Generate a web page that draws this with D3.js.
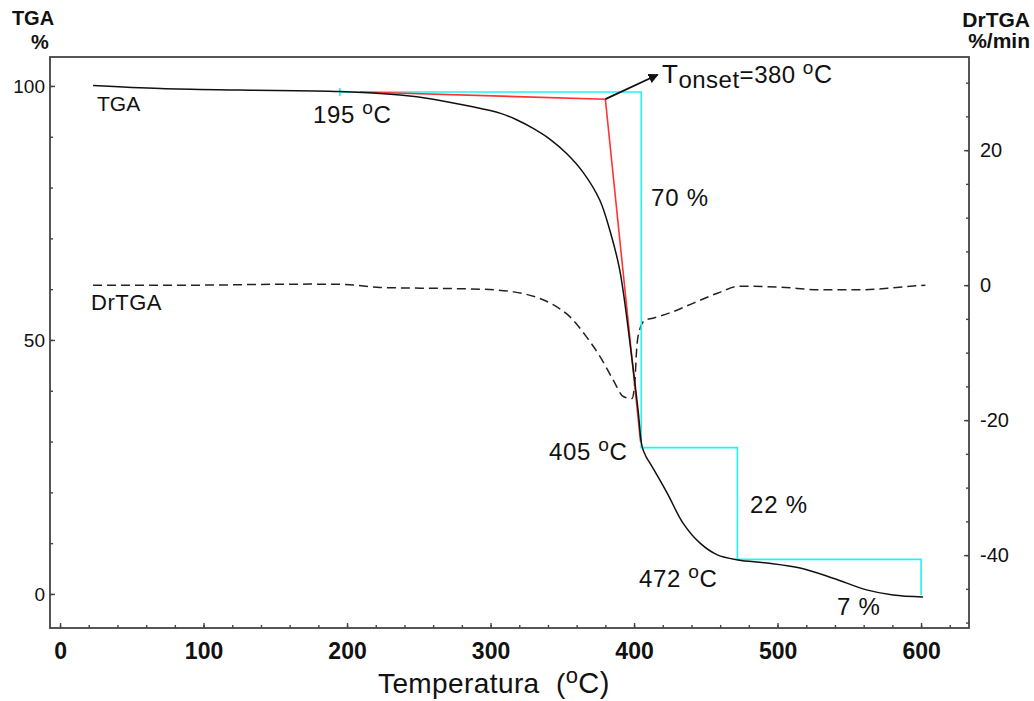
<!DOCTYPE html>
<html>
<head>
<meta charset="utf-8">
<script src="https://cdn.jsdelivr.net/npm/d3@7/dist/d3.min.js"></script>
<style>
  html, body { margin: 0; padding: 0; background: #fff; }
  svg { display: block; }
  text { font-family: "Liberation Sans", Arial, sans-serif; fill: #111; white-space: pre; }
</style>
</head>
<body>
<svg id="chart" width="1034" height="701"></svg>
<script>
// Thermogravimetric curve (mass %, left axis) versus temperature (°C)
const tgaTemp = [23, 70, 125, 195, 237, 260, 284, 307, 318.5, 330, 341.5, 353, 364.5, 376, 383, 390,
                 398.6, 402.8, 405.6, 408.4, 411, 423, 434, 446, 458, 472.5, 492.5, 515.7, 538.7, 562, 580.5, 601.4];
const tgaMass = [100.1, 99.5, 99.2, 98.9, 98.2, 97.4, 96.1, 94.6, 93.3, 91.6, 89.5, 86.7, 83.0, 77.6, 71.7, 63.8,
                 46.1, 36.2, 29.0, 27.0, 25.8, 19.9, 14.0, 10.0, 7.7, 6.7, 6.1, 5.1, 3.1, 0.8, -0.2, -0.6];

// Derivative curve (%/min, right axis)
const dtgTemp = [23, 98, 140, 174, 199, 223, 270, 293, 316, 332, 343.6, 355.4, 367, 376.3, 385.6, 392.5,
                 398.6, 400.7, 402, 404.2, 407.7, 413, 425, 441, 458, 474, 502, 530, 557.5, 585, 603];
const dtgRate = [0, 0, 0.1, 0.15, 0.1, -0.35, -0.5, -0.6, -1.0, -1.8, -2.9, -4.7, -7.7, -10.6, -14.1, -16.5,
                 -16.8, -13.8, -8.9, -6.4, -5.2, -4.9, -4.1, -2.7, -1.2, -0.15, -0.3, -0.7, -0.7, -0.3, 0];

// Onset construction: baseline tangent and inflection tangent
const onsetTemp = [209, 380, 404.5];
const onsetMass = [98.8, 97.4, 30.0];
const onsetValue = 380;

// Mass-loss steps
const stepTemps = [195, 405, 472, 600];
const stepStart = 98.8;
const stepLosses = [70, 22, 7];

// Axis ticks
const xMajor = [0, 100, 200, 300, 400, 500, 600];
const yLeftMajor = [0, 50, 100];
const yRightMajor = [-40, -20, 0, 20];

const svg = d3.select("#chart");
const plotL = 50, plotR = 969, plotT = 57, plotB = 628;

const x = d3.scaleLinear().domain([-7, 633.4]).range([plotL, plotR]);
const yL = d3.scaleLinear().domain([-6.7, 105.7]).range([plotB, plotT]);
const yR = d3.scaleLinear().domain([-50.8, 33.8]).range([plotB, plotT]);

const axisColor = "#444";
const FONT = "'Liberation Sans', Arial, sans-serif";
const fmt = d => String(d);

// Minor ticks
const gMinor = svg.append("g");
gMinor.append("g").attr("transform", `translate(0,${plotB})`)
  .call(d3.axisBottom(x).tickValues(d3.range(0, 621, 20)).tickSize(-3).tickFormat(""));
gMinor.append("g").attr("transform", `translate(${plotL},0)`)
  .call(d3.axisLeft(yL).tickValues(d3.range(0, 101, 10)).tickSize(-3).tickFormat(""));
gMinor.append("g").attr("transform", `translate(${plotR},0)`)
  .call(d3.axisRight(yR).tickValues(d3.range(-50, 31, 5)).tickSize(-3).tickFormat(""));

// Major ticks with labels
const gx = svg.append("g").attr("transform", `translate(0,${plotB})`)
  .call(d3.axisBottom(x).tickValues(xMajor).tickSize(-5).tickPadding(13).tickFormat(fmt));
gx.selectAll("text").attr("font-size", 23).attr("font-weight", "bold").attr("dy", "0.78em")
  .attr("font-family", FONT).attr("fill", "#111");

const gl = svg.append("g").attr("transform", `translate(${plotL},0)`)
  .call(d3.axisLeft(yL).tickValues(yLeftMajor).tickSize(-5).tickPadding(5).tickFormat(fmt));
gl.selectAll("text").attr("font-size", 19).attr("font-family", FONT).attr("fill", "#111");

const gr = svg.append("g").attr("transform", `translate(${plotR},0)`)
  .call(d3.axisRight(yR).tickValues(yRightMajor).tickSize(-5).tickPadding(11).tickFormat(fmt));
gr.selectAll("text").attr("font-size", 20).attr("font-family", FONT).attr("fill", "#111");

svg.selectAll(".domain").remove();
svg.selectAll(".tick line").attr("stroke", axisColor).attr("stroke-width", 1.4);

// Frame
svg.append("rect").attr("x", plotL).attr("y", plotT).attr("width", plotR - plotL).attr("height", plotB - plotT)
  .attr("fill", "none").attr("stroke", axisColor).attr("stroke-width", 1.8);

// Curves
const tgaData = tgaTemp.map((t, i) => [t, tgaMass[i]]);
const dtgData = dtgTemp.map((t, i) => [t, dtgRate[i]]);

svg.append("path").datum(dtgData)
  .attr("d", d3.line().x(d => x(d[0])).y(d => yR(d[1])).curve(d3.curveMonotoneX))
  .attr("fill", "none").attr("stroke", "#222").attr("stroke-width", 1.5).attr("stroke-dasharray", "9,5");

// Step levels from the stated mass losses
const levels = [stepStart];
stepLosses.forEach(l => levels.push(levels[levels.length - 1] - l));
const stepPts = [[stepTemps[0], levels[0]]];
for (let i = 1; i < stepTemps.length; i++) {
  stepPts.push([stepTemps[i], levels[i - 1]]);
  stepPts.push([stepTemps[i], levels[i]]);
}
svg.append("path").datum(stepPts)
  .attr("d", d3.line().x(d => x(d[0])).y(d => yL(d[1])))
  .attr("fill", "none").attr("stroke", "#1ff5f5").attr("stroke-width", 1.6);
svg.append("line")
  .attr("x1", x(stepTemps[0])).attr("x2", x(stepTemps[0]))
  .attr("y1", yL(levels[0]) - 4).attr("y2", yL(levels[0]) + 4)
  .attr("stroke", "#1ff5f5").attr("stroke-width", 1.6);

const onsetData = onsetTemp.map((t, i) => [t, onsetMass[i]]);
svg.append("path").datum(onsetData)
  .attr("d", d3.line().x(d => x(d[0])).y(d => yL(d[1])))
  .attr("fill", "none").attr("stroke", "#ff3333").attr("stroke-width", 1.6);

svg.append("path").datum(tgaData)
  .attr("d", d3.line().x(d => x(d[0])).y(d => yL(d[1])).curve(d3.curveCatmullRom.alpha(0.5)))
  .attr("fill", "none").attr("stroke", "#111").attr("stroke-width", 1.5);

// Arrow from the onset point to its label
svg.append("defs").append("marker")
  .attr("id", "arrow").attr("viewBox", "0 0 10 10").attr("refX", 9).attr("refY", 5)
  .attr("markerWidth", 10).attr("markerHeight", 10).attr("markerUnits", "userSpaceOnUse")
  .attr("orient", "auto")
  .append("path").attr("d", "M0,0 L10,5 L0,10 Z").attr("fill", "#111");
svg.append("line")
  .attr("x1", x(onsetValue)).attr("y1", yL(onsetMass[1]))
  .attr("x2", x(416.5)).attr("y2", yL(102.2))
  .attr("stroke", "#111").attr("stroke-width", 1.8).attr("marker-end", "url(#arrow)");

// Text helpers
function degLabel(px, py, num, size) {
  const t = svg.append("text").attr("x", px).attr("y", py).attr("font-size", size)
    .attr("letter-spacing", 0.6);
  t.append("tspan").text(num + " ");
  t.append("tspan").attr("font-size", size * 0.8).attr("dy", -size * 0.36).text("o");
  t.append("tspan").attr("dy", size * 0.36).text("C");
  return t;
}
function plain(px, py, str, size, opts = {}) {
  return svg.append("text").attr("x", px).attr("y", py).attr("font-size", size)
    .attr("font-weight", opts.bold ? "bold" : null)
    .attr("letter-spacing", opts.ls || null)
    .attr("text-anchor", opts.anchor || "start").text(str);
}

// Axis titles
plain(33, 25, "TGA", 20, { bold: true, anchor: "middle" });
plain(40, 49, "%", 20, { bold: true, anchor: "middle" });
plain(1030, 27, "DrTGA", 21, { bold: true, anchor: "end" });
plain(1030, 48, "%/min", 21, { bold: true, anchor: "end" });

const xt = svg.append("text").attr("x", 378).attr("y", 693).attr("font-size", 28).attr("letter-spacing", 0.4);
xt.append("tspan").text("Temperatura  (");
xt.append("tspan").attr("font-size", 22).attr("dy", -10).text("o");
xt.append("tspan").attr("dy", 10).attr("font-size", 29).text("C)");

// Curve names
plain(97, 111, "TGA", 21);
plain(91, 310, "DrTGA", 22, { ls: 0.5 });

// Annotations
degLabel(313, 123, "195", 24);
degLabel(549, 460, "405", 24);
degLabel(639, 587, "472", 24);
plain(651, 206, "70 %", 24, { ls: 0.8 });
plain(750, 513, "22 %", 24, { ls: 0.8 });
plain(837, 615, "7 %", 24, { ls: 0.8 });

const on = svg.append("text").attr("x", 662).attr("y", 83).attr("font-size", 26).attr("letter-spacing", 0.5);
on.append("tspan").text("T");
on.append("tspan").attr("font-size", 24).attr("dy", 5).text("onset");
on.append("tspan").attr("font-size", 24).attr("dy", -5).text("=" + onsetValue + " ");
on.append("tspan").attr("font-size", 19).attr("dy", -9).text("o");
on.append("tspan").attr("font-size", 25).attr("dy", 9).text("C");
</script>
</body>
</html>
